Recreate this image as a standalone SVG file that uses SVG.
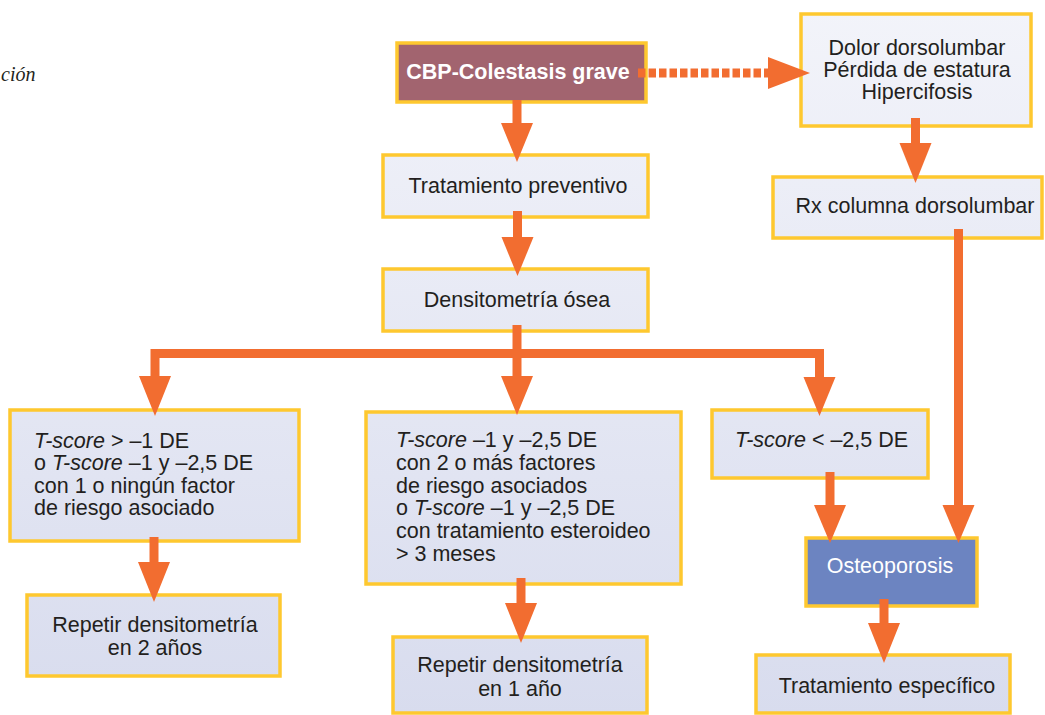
<svg xmlns="http://www.w3.org/2000/svg" width="1045" height="715" viewBox="0 0 1045 715">
<defs>
<linearGradient id="lg" gradientUnits="userSpaceOnUse" x1="0" y1="0" x2="0" y2="715">
<stop offset="0" stop-color="#f3f4fa"/>
<stop offset="1" stop-color="#d8dcee"/>
</linearGradient>
</defs>
<style>
.box{fill:url(#lg);stroke:#fec82f;stroke-width:3.5}
.t{font-family:"Liberation Sans",Arial,sans-serif;font-size:21.5px;fill:#231f20}
.c{text-anchor:middle}
.i{font-style:italic}
.w{fill:#ffffff}
.stem{stroke:#f26d30;stroke-width:9;fill:none}
.head{fill:#f26d30}
</style>
<rect width="1045" height="715" fill="#ffffff"/>
<text x="1" y="81" font-family="Liberation Serif,serif" font-style="italic" font-size="20" fill="#231f20">ción</text>

<g id="n-cbp">
<rect x="397" y="43" width="249" height="59" fill="#a2646f" stroke="#fec82f" stroke-width="3.5"/>
<text class="t c w" x="518" y="79" font-weight="bold" font-size="19.5">CBP-Colestasis grave</text>
</g>
<g id="n-dolor">
<rect class="box" x="801" y="14" width="230" height="112"/>
<text class="t c" x="917" y="55">Dolor dorsolumbar<tspan x="917" dy="22">Pérdida de estatura</tspan><tspan x="917" dy="22">Hipercifosis</tspan></text>
</g>
<g id="n-prev">
<rect class="box" x="383" y="155" width="265" height="62"/>
<text class="t c" x="518" y="193">Tratamiento preventivo</text>
</g>
<g id="n-rx">
<rect class="box" x="773" y="177" width="269" height="61"/>
<text class="t c" x="915" y="213">Rx columna dorsolumbar</text>
</g>
<g id="n-dens">
<rect class="box" x="383" y="269" width="265" height="62"/>
<text class="t c" x="517" y="307">Densitometría ósea</text>
</g>
<g id="n-left">
<rect class="box" x="10" y="410" width="289" height="131"/>
<text class="t" x="34" y="448"><tspan class="i">T-score</tspan> &gt; –1 DE<tspan x="34" dy="22.3">o <tspan class="i">T-score</tspan> –1 y –2,5 DE</tspan><tspan x="34" dy="22.3">con 1 o ningún factor</tspan><tspan x="34" dy="22.3">de riesgo asociado</tspan></text>
</g>
<g id="n-mid">
<rect class="box" x="366" y="412" width="315" height="172"/>
<text class="t" x="396" y="447"><tspan class="i">T-score</tspan> –1 y –2,5 DE<tspan x="396" dy="22.8">con 2 o más factores</tspan><tspan x="396" dy="22.8">de riesgo asociados</tspan><tspan x="396" dy="22.8">o <tspan class="i">T-score</tspan> –1 y –2,5 DE</tspan><tspan x="396" dy="22.8">con tratamiento esteroideo</tspan><tspan x="396" dy="22.8">&gt; 3 meses</tspan></text>
</g>
<g id="n-low">
<rect class="box" x="712" y="410" width="216" height="68"/>
<text class="t" x="735" y="447"><tspan class="i">T-score</tspan> &lt; –2,5 DE</text>
</g>
<g id="n-osteo">
<rect x="806" y="538" width="171" height="68" fill="#6c84c1" stroke="#fec82f" stroke-width="3.5"/>
<text class="t c w" x="890" y="573">Osteoporosis</text>
</g>
<g id="n-rep2">
<rect class="box" x="27" y="595" width="253" height="81"/>
<text class="t c" x="155" y="632">Repetir densitometría<tspan x="155" dy="23">en 2 años</tspan></text>
</g>
<g id="n-rep1">
<rect class="box" x="393" y="637" width="254" height="76"/>
<text class="t c" x="520" y="672">Repetir densitometría<tspan x="520" dy="24">en 1 año</tspan></text>
</g>
<g id="n-esp">
<rect class="box" x="756" y="655" width="254" height="58"/>
<text class="t c" x="887" y="693">Tratamiento específico</text>
</g>

<g id="connectors">
<line class="stem" x1="517" y1="100" x2="517" y2="124"/>
<polygon class="head" points="501,123 533,123 517,162"/>
<line class="stem" x1="517.5" y1="211" x2="517.5" y2="238"/>
<polygon class="head" points="501.5,237 533.5,237 517.5,276"/>
<line class="stem" x1="517" y1="325" x2="517" y2="377"/>
<polyline class="stem" points="155,377 155,353.5 819.5,353.5 819.5,378"/>
<polygon class="head" points="139,376 171,376 155,416"/>
<polygon class="head" points="501,376 533,376 517,415"/>
<polygon class="head" points="803.5,377 835.5,377 819.5,416"/>
<line class="stem" x1="154" y1="537" x2="154" y2="563"/>
<polygon class="head" points="138,562 170,562 154,602"/>
<line class="stem" x1="521" y1="578" x2="521" y2="604"/>
<polygon class="head" points="505,603 537,603 521,643"/>
<line class="stem" x1="830" y1="472" x2="830" y2="506"/>
<polygon class="head" points="814,505 846,505 830,543"/>
<line class="stem" x1="958.5" y1="229" x2="958.5" y2="506"/>
<polygon class="head" points="942.5,505 974.5,505 958.5,543"/>
<line class="stem" x1="884" y1="599" x2="884" y2="624"/>
<polygon class="head" points="868,623 900,623 884,663"/>
<line class="stem" x1="915.5" y1="118" x2="915.5" y2="144"/>
<polygon class="head" points="899.5,143 931.5,143 915.5,183"/>
<line x1="638" y1="73" x2="768" y2="73" stroke="#f26d30" stroke-width="9" stroke-dasharray="7.5 3"/>
<polygon class="head" points="768,57 768,89 810,73"/>
</g>
</svg>
